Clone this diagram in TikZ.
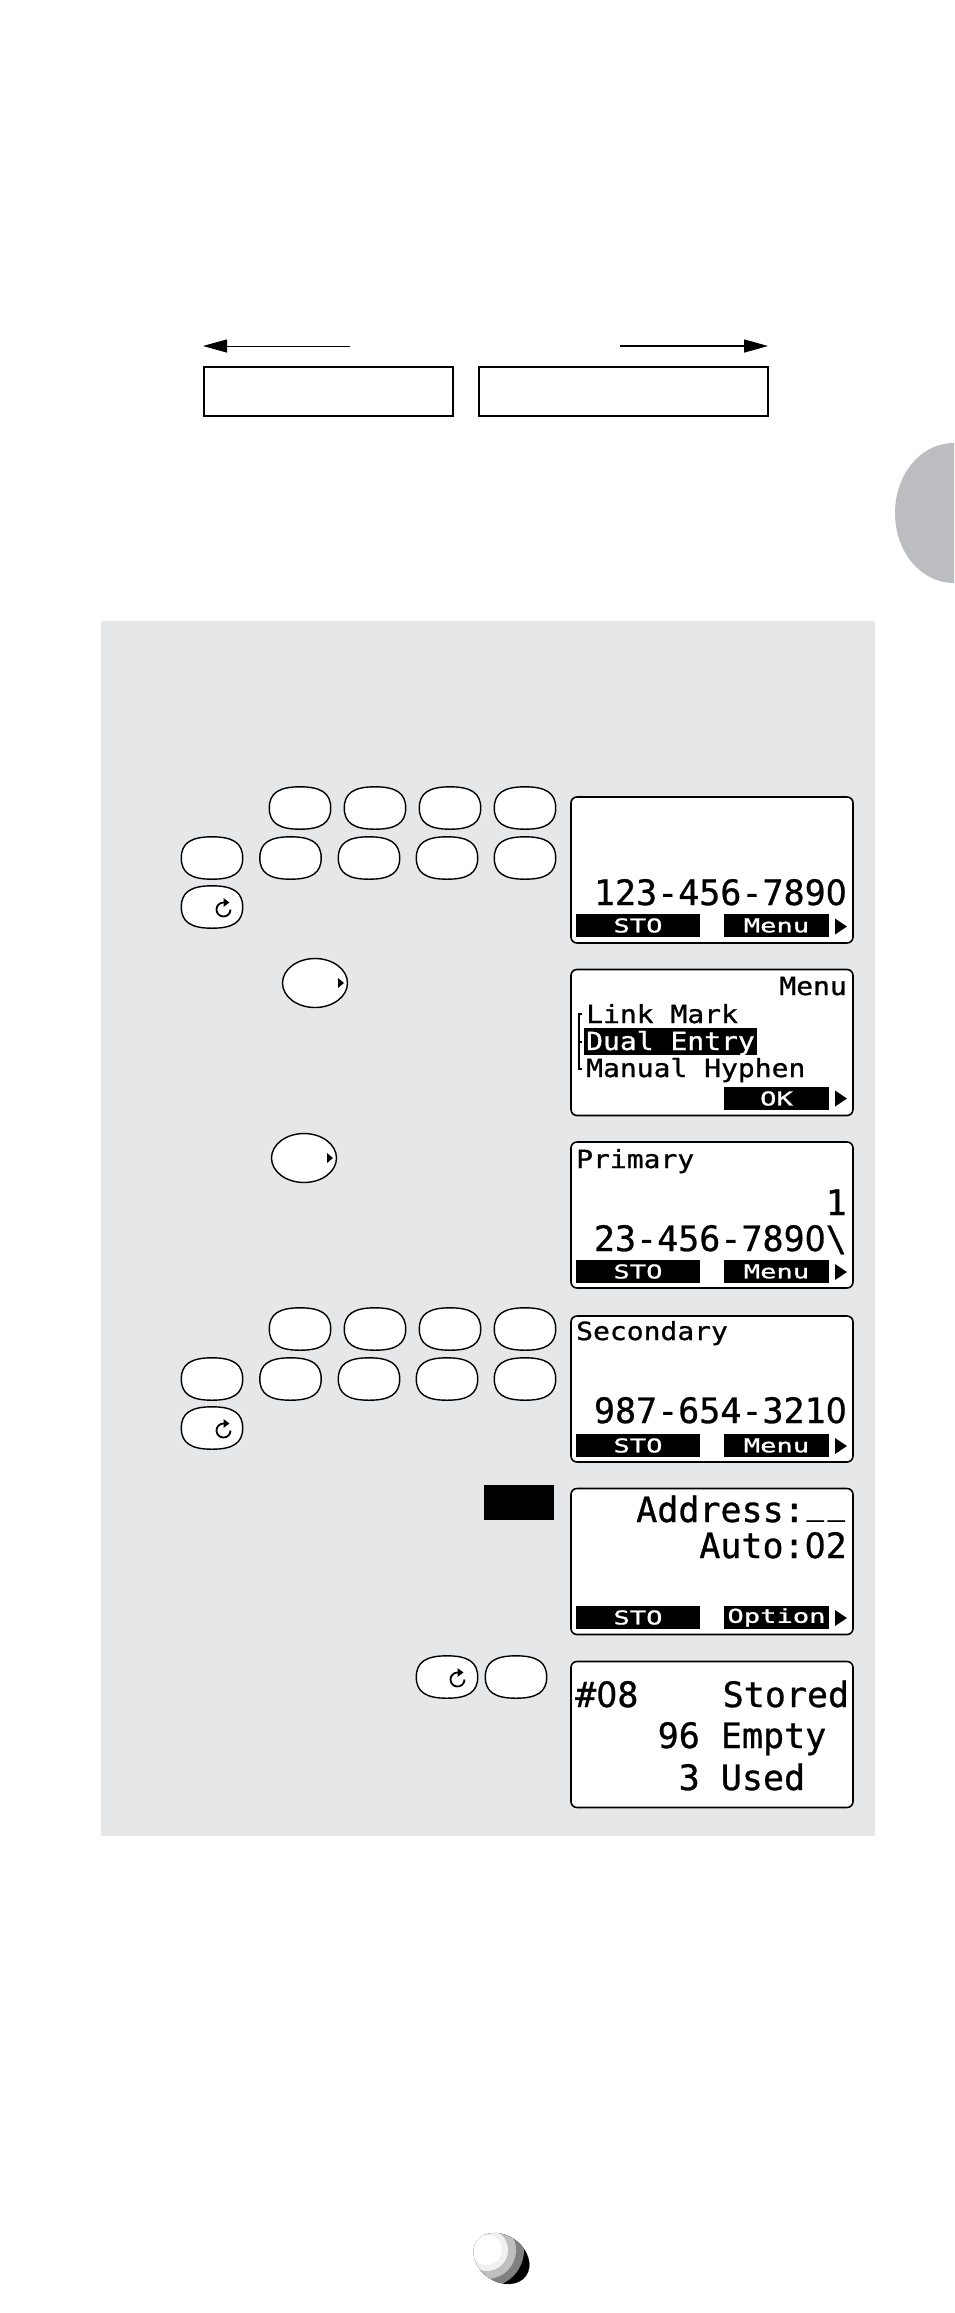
\documentclass[tikz,border=0pt]{standalone}
\usepackage{fontspec}
\usepackage{tikz}
\usetikzlibrary{arrows.meta,shapes.geometric}

\newfontfamily\lcdfont[FakeBold=0.8]{DejaVu Sans Mono}
\newfontfamily\lcdplain[FakeBold=0.8]{DejaVu Sans}
\newfontfamily\lcdwide[FakeStretch=1.12,FakeBold=1]{DejaVu Sans Mono}
\newfontfamily\lcdsoft[FakeStretch=1.43,FakeBold=1.2]{DejaVu Sans Mono}

\newcommand{\lcdzero}{\scalebox{0.946}[1]{\lcdplain 0}}
\newcommand{\lcdunder}{\raisebox{8.5pt}{\makebox[21pt]{\scalebox{0.82}[1]{\_}}}}
\newcommand{\keyoval}[3]{
	\node [keybase] (#1) at (#2,#3) {};
	\filldraw [keyline] (#1.west) .. controls +(0,-15) and +(-21,0) .. (#1.north) .. controls +(21,0) and +(0,-15) .. (#1.east) .. controls +(0,15) and +(21,0) .. (#1.south) .. controls +(-21,0) and +(0,15) .. (#1.west) -- cycle;
}
\newcommand{\returnmark}[2]{
	\draw [line width=1.8pt,-{Triangle[length=6pt,width=8.5pt]}] (#1,#2) arc (0:270:7) -- ++(6,0);
}

\definecolor{panelgrey}{HTML}{E6E7E8}
\definecolor{tabgrey}{HTML}{BBBDC0}

\tikzset{
	keybase/.style={shape=rectangle,minimum width=61pt,minimum height=42pt,inner sep=0pt},
	keyline/.style={draw=black,fill=white,line width=1.4pt},
	keyround/.style={shape=ellipse,draw=black,fill=white,line width=1.4pt,minimum width=65pt,minimum height=49pt,inner sep=0pt},
	display/.style={shape=rectangle,draw=black,fill=white,line width=1.6pt,rounded corners=6pt,minimum width=282pt,minimum height=146pt,inner sep=0pt},
	softleft/.style={shape=rectangle,fill=black,text=white,minimum width=124pt,minimum height=23pt,inner sep=0pt,font=\lcdsoft\fontsize{19}{19}\selectfont},
	softright/.style={shape=rectangle,fill=black,text=white,minimum width=105pt,minimum height=23pt,inner sep=0pt,font=\lcdsoft\fontsize{19}{19}\selectfont},
	lcdbig/.style={inner sep=0pt,font=\lcdfont\fontsize{35}{36}\selectfont},
	lcdmid/.style={inner sep=0pt,font=\lcdwide\fontsize{25}{27}\selectfont},
	frame/.style={shape=rectangle,draw=black,line width=2pt,inner sep=0pt}
}

\begin{document}
\begin{tikzpicture}[x=1pt,y=-1pt]
	\useasboundingbox (0,0) rectangle (954,2313);

	\coordinate (leftEnd) at (350,346);
	\coordinate (leftTip) at (203,346);
	\coordinate (rightEnd) at (620,346);
	\coordinate (rightTip) at (768,346);
	\draw [line width=1pt,-{Triangle[length=24pt,width=13pt]},black] (leftEnd) -- (leftTip);
	\draw [line width=1.5pt,-{Triangle[length=24pt,width=13pt]},black] (rightEnd) -- (rightTip);
	\node [frame,minimum width=249pt,minimum height=49pt] (boxL) at (328,391.5) {};
	\node [frame,minimum width=289pt,minimum height=49pt] (boxR) at (623.5,391.5) {};

	\fill [tabgrey] (954,443) .. controls (921,443) and (895,474) .. (895,513) .. controls (895,552) and (921,583) .. (954,583) -- cycle;

	\fill [panelgrey] (101,621) rectangle (875,1836);

	\keyoval{a1}{300}{808}
	\keyoval{a2}{375}{808}
	\keyoval{a3}{450}{808}
	\keyoval{a4}{525}{808}
	\keyoval{a5}{212}{858}
	\keyoval{a6}{290.5}{858}
	\keyoval{a7}{369}{858}
	\keyoval{a8}{447}{858}
	\keyoval{a9}{525}{858}
	\keyoval{a10}{212}{907}
	\returnmark{230.5}{909.5}

	\node [keyround] (right1) at (315,983) {};
	\fill (338,978) -- (344,983) -- (338,988) -- cycle;
	\node [keyround] (right2) at (304,1158) {};
	\fill (327,1153) -- (333,1158) -- (327,1163) -- cycle;

	\keyoval{b1}{300}{1329}
	\keyoval{b2}{375}{1329}
	\keyoval{b3}{450}{1329}
	\keyoval{b4}{525}{1329}
	\keyoval{b5}{212}{1379}
	\keyoval{b6}{290.5}{1379}
	\keyoval{b7}{369}{1379}
	\keyoval{b8}{447}{1379}
	\keyoval{b9}{525}{1379}
	\keyoval{b10}{212}{1428}
	\returnmark{230.5}{1430.5}

	\node [shape=rectangle,fill=black,minimum width=70pt,minimum height=35pt,inner sep=0pt] (softBlank) at (519,1502.5) {};

	\keyoval{c1}{447}{1677}
	\returnmark{464.5}{1679.5}
	\keyoval{c2}{516}{1677}

	\node [display] (disp1) at (712,870) {};
	\node [display] (disp2) at (712,1042.5) {};
	\node [display] (disp3) at (712,1215) {};
	\node [display] (disp4) at (712,1389) {};
	\node [display] (disp5) at (712,1561.5) {};
	\node [display] (disp6) at (712,1734.5) {};

	\node [lcdbig,anchor=base east] (num1) at (847,905) {123-456-789\lcdzero};
	\node [softleft] (sto1) at (638,925.5) {STO};
	\node [softright] (menu1) at (776.5,925.5) {Menu};
	\fill (835,918.5) -- (847,926.5) -- (835,934.5) -- cycle;

	\node [lcdmid,anchor=base east] (title2) at (847,995) {Menu};
	\node [lcdmid,anchor=base west] (item1) at (586,1023) {Link~Mark};
	\node [shape=rectangle,fill=black,minimum width=173pt,minimum height=27pt,inner sep=0pt] (itemBar) at (670.5,1041.5) {};
	\node [lcdmid,anchor=base west,text=white] (item2) at (586,1050) {Dual~Entry};
	\node [lcdmid,anchor=base west] (item3) at (586,1077) {Manual~Hyphen};
	\draw [line width=1.5pt] (582,1014) -- (579,1014) -- (579,1069) -- (582,1069);
	\draw [line width=1.5pt] (579,1042) -- (582,1042);
	\node [softright] (ok2) at (776.5,1098.5) {OK};
	\fill (835,1090.5) -- (847,1098.5) -- (835,1106.5) -- cycle;

	\node [lcdmid,anchor=base west] (title3) at (576,1168) {Primary};
	\node [lcdbig,anchor=base east] (num3a) at (847,1215) {1};
	\node [lcdbig,anchor=base east] (num3b) at (847,1251) {23-456-789\lcdzero\textbackslash};
	\node [softleft] (sto3) at (638,1271.5) {STO};
	\node [softright] (menu3) at (776.5,1271.5) {Menu};
	\fill (835,1264) -- (847,1272) -- (835,1280) -- cycle;

	\node [lcdmid,anchor=base west] (title4) at (576,1340) {Secondary};
	\node [lcdbig,anchor=base east] (num4) at (847,1423) {987-654-321\lcdzero};
	\node [softleft] (sto4) at (638,1445.5) {STO};
	\node [softright] (menu4) at (776.5,1445.5) {Menu};
	\fill (835,1438) -- (847,1446) -- (835,1454) -- cycle;

	\node [lcdbig,anchor=base east] (addr5) at (847,1522) {Address:\lcdunder\lcdunder};
	\node [lcdbig,anchor=base east] (auto5) at (847,1558) {Auto:\lcdzero 2};
	\node [softleft] (sto5) at (638,1617.5) {STO};
	\node [softright] (option5) at (776.5,1617.5) {Option};
	\fill (835,1610) -- (847,1618) -- (835,1626) -- cycle;

	\node [lcdbig,anchor=base west] (line6a) at (575,1707) {\#\lcdzero 8~~~~Stored};
	\node [lcdbig,anchor=base west] (line6b) at (657.5,1748) {96~Empty};
	\node [lcdbig,anchor=base west] (line6c) at (678.5,1790) {3~Used};

	\draw [black!35,line width=0.5pt,rotate around={-35:(501.5,2258.5)}] (501.5,2258.5) ellipse (30 and 23);
	\begin{scope}
		\clip [rotate around={-35:(501.5,2258.5)}] (501.5,2258.5) ellipse (30 and 23);
		\fill [black] (470,2230) rectangle (535,2290);
		\fill [black!50] (487,2250) circle (37);
		\fill [black!25] (487,2250) circle (29);
		\fill [black!6] (487,2250) circle (21);
		\fill [white] (487,2250) circle (15);
	\end{scope}
\end{tikzpicture}
\end{document}
